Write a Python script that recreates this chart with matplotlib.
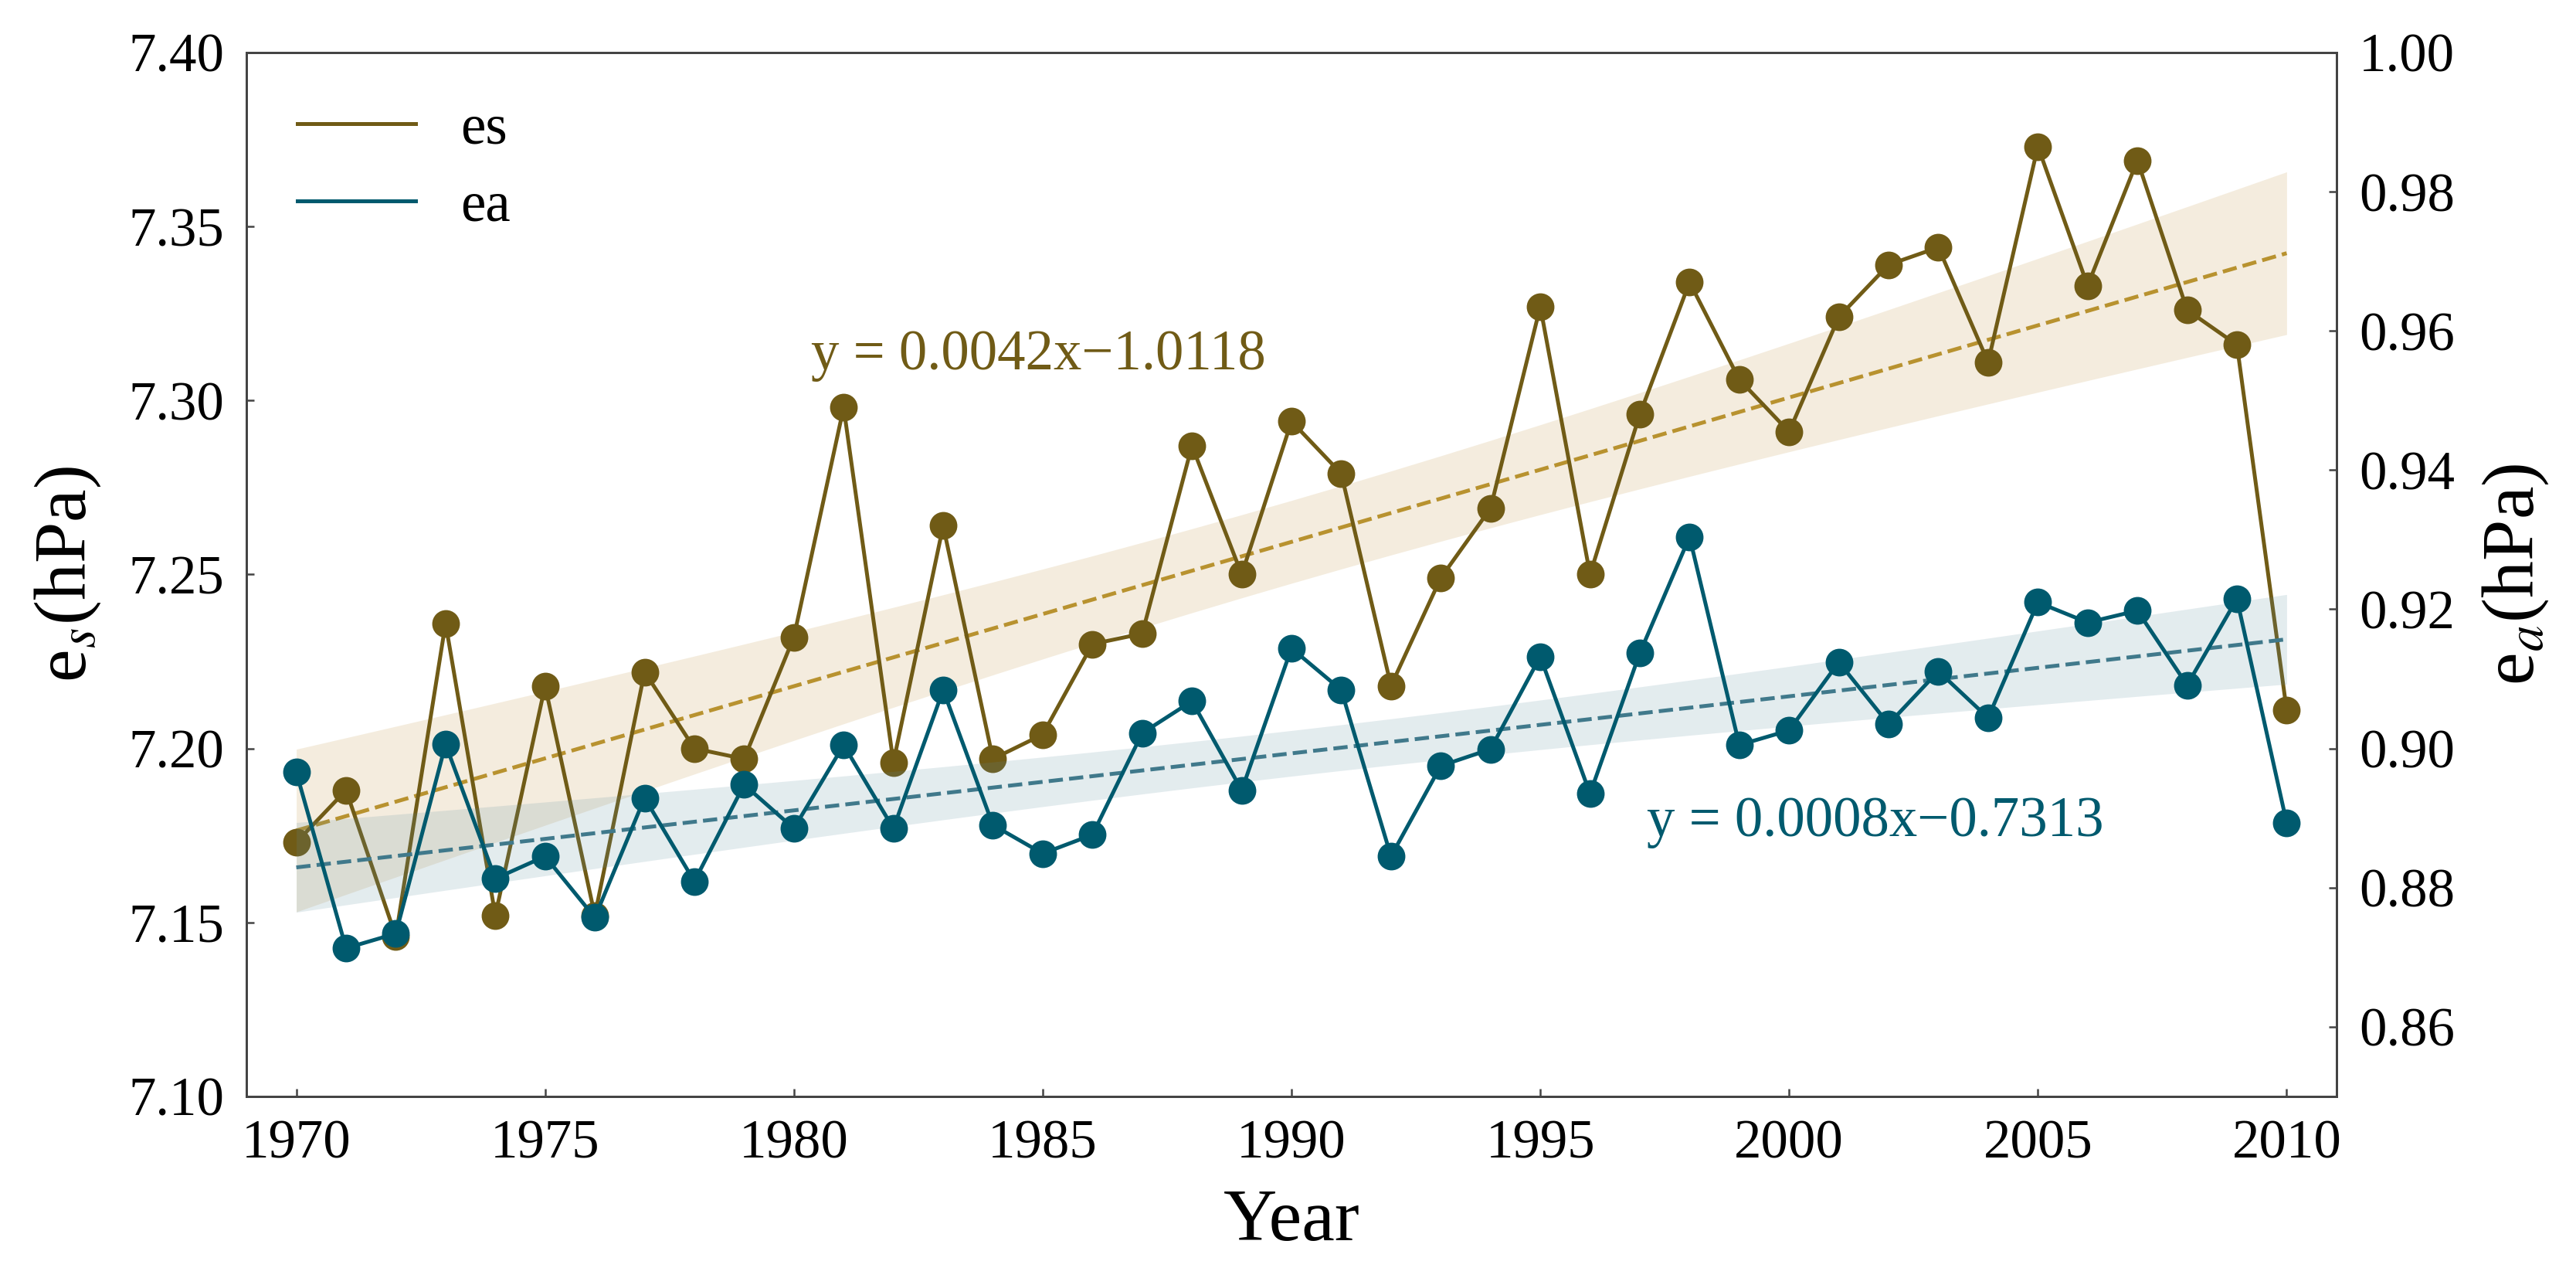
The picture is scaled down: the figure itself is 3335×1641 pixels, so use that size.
import numpy as np
import matplotlib
matplotlib.use("Agg")
import matplotlib.pyplot as plt
from matplotlib.lines import Line2D

plt.rcParams["font.family"] = ["Liberation Serif", "DejaVu Serif"]
plt.rcParams["mathtext.fontset"] = "stix"

years = np.arange(1970, 2011)

es = [7.173, 7.188, 7.146, 7.236, 7.152, 7.218, 7.152, 7.222, 7.200, 7.197,
      7.232, 7.298, 7.196, 7.264, 7.197, 7.204, 7.230, 7.233, 7.287, 7.250,
      7.294, 7.279, 7.218, 7.249, 7.269, 7.327, 7.250, 7.296, 7.334, 7.306,
      7.291, 7.324, 7.339, 7.344, 7.311, 7.373, 7.333, 7.369, 7.326, 7.316,
      7.211]

ea = [0.8966, 0.8713, 0.8734, 0.9006, 0.8813, 0.8845, 0.8757, 0.8929, 0.8809, 0.8948,
      0.8885, 0.9005, 0.8885, 0.9084, 0.8890, 0.8849, 0.8876, 0.9022, 0.9068, 0.8940,
      0.9144, 0.9084, 0.8845, 0.8975, 0.8999, 0.9132, 0.8935, 0.9137, 0.9304, 0.9005,
      0.9026, 0.9124, 0.9035, 0.9111, 0.9044, 0.9210, 0.9181, 0.9198, 0.9091, 0.9215,
      0.8893]

es_label = "y = 0.0042x\u22121.0118"
ea_label = "y = 0.0008x\u22120.7313"

C_ES = "#705B16"
C_EA = "#005A6E"
C_ES_FIT = "#B8922F"
C_EA_FIT = "#40798B"
C_ES_BAND = "#C9A45C"
C_EA_BAND = "#5E8FA0"


def fit_with_ci(x, y, t=2.023):
    x = np.asarray(x, float)
    y = np.asarray(y, float)
    k, b = np.polyfit(x, y, 1)
    pred = k * x + b
    n = len(x)
    s = np.sqrt(np.sum((y - pred) ** 2) / (n - 2))
    sxx = np.sum((x - x.mean()) ** 2)
    se = s * np.sqrt(1.0 / n + (x - x.mean()) ** 2 / sxx)
    return pred, pred - t * se, pred + t * se


fig = plt.figure(figsize=(3335 / 300, 1641 / 300), dpi=300)
ax1 = fig.add_axes([0.0957, 0.1353, 0.8113, 0.8233])
ax2 = ax1.twinx()

# es on the left axis
fit, lo, hi = fit_with_ci(years, es)
ax1.fill_between(years, lo, hi, color=C_ES_BAND, alpha=0.2, linewidth=0)
ax1.plot(years, fit, "--", color=C_ES_FIT, lw=1.2)
ax1.plot(years, es, "-o", color=C_ES, lw=1.2, ms=7.6)

# ea on the right axis
fit, lo, hi = fit_with_ci(years, ea)
ax2.fill_between(years, lo, hi, color=C_EA_BAND, alpha=0.17, linewidth=0)
ax2.plot(years, fit, "--", color=C_EA_FIT, lw=1.2)
ax2.plot(years, ea, "-o", color=C_EA, lw=1.2, ms=7.6)

ax1.set_xlim(1969, 2011)
ax1.set_ylim(7.10, 7.40)
ax2.set_ylim(0.85, 1.00)
ax1.set_xticks(range(1970, 2011, 5))
ax1.set_yticks(np.arange(7.10, 7.401, 0.05))
ax2.set_yticks(np.arange(0.86, 1.001, 0.02))
ax1.yaxis.set_major_formatter(matplotlib.ticker.FormatStrFormatter("%.2f"))
ax2.yaxis.set_major_formatter(matplotlib.ticker.FormatStrFormatter("%.2f"))

for ax in (ax1, ax2):
    ax.tick_params(direction="in", length=2.4, width=0.6, color="#444444",
                   labelsize=17, pad=7)
    for sp in ax.spines.values():
        sp.set_color("#444444")
        sp.set_linewidth(0.7)

ax1.set_xlabel("Year", fontsize=23, labelpad=6)
ax1.set_ylabel("e$_{s}$(hPa)", fontsize=23, labelpad=8)
ax2.set_ylabel("e$_{a}$(hPa)", fontsize=23, labelpad=8)

ax1.text(1980.35, 7.309, es_label, color=C_ES, fontsize=17.5, va="baseline")
ax2.text(1997.14, 0.8874, ea_label, color=C_EA, fontsize=17.5, va="baseline")

handles = [Line2D([], [], color=C_ES, lw=1.2), Line2D([], [], color=C_EA, lw=1.2)]
ax1.legend(handles, ["es", "ea"], loc="upper left", frameon=False, fontsize=17.5,
           handlelength=2.1, handletextpad=0.8, labelspacing=0.45)

fig.savefig("out.png", dpi=300)
